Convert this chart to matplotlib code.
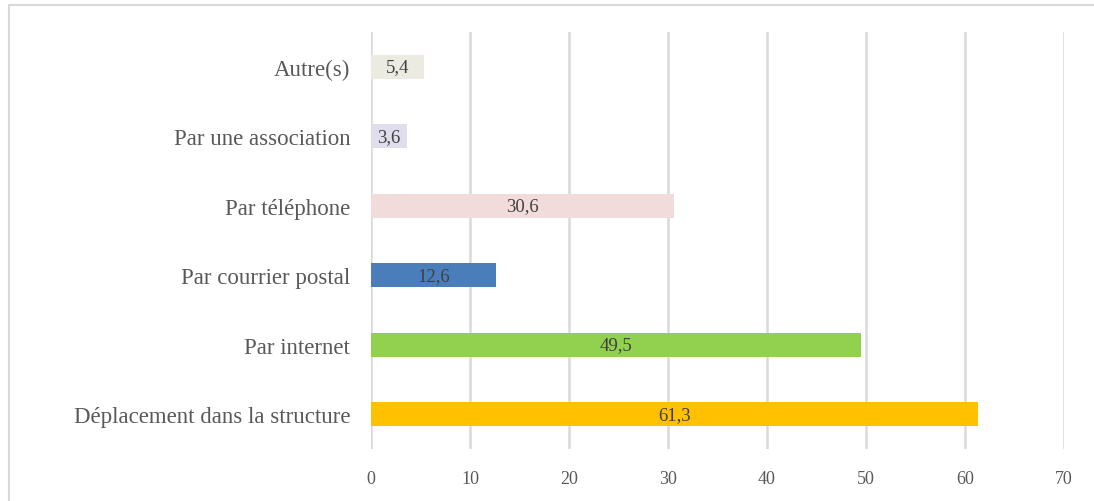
import matplotlib.pyplot as plt
from matplotlib.patches import Rectangle

categories = [
    "Déplacement dans la structure",
    "Par internet",
    "Par courrier postal",
    "Par téléphone",
    "Par une association",
    "Autre(s)",
]
values = [61.3, 49.5, 12.6, 30.6, 3.6, 5.4]
colors = ["#FFC000", "#92D050", "#4A7EBB", "#F2DCDB", "#E0DDEC", "#ECEBE1"]
xticks = [0, 10, 20, 30, 40, 50, 60, 70]

plt.rcParams["font.family"] = ["Liberation Serif", "DejaVu Serif"]

fig = plt.figure(figsize=(10.94, 5.02), dpi=100)
ax = fig.add_axes([371 / 1094, 1 - 450 / 502, 693 / 1094, 417 / 502])

# light frame around the chart area
fig.patches.append(Rectangle((9 / 1094, -0.1), 1.1, 1.1 - 6 / 502,
                             transform=fig.transFigure, fill=False,
                             edgecolor="#D9D9D9", linewidth=1.5))

y = range(len(categories))
bars = ax.barh(y, values, height=0.35, color=colors, zorder=3)
for rect, v in zip(bars, values):
    ax.text(rect.get_width() / 2, rect.get_y() + rect.get_height() / 2,
            f"{v:.1f}".replace(".", ","), ha="center", va="center",
            fontsize=13.5, color="#404040", zorder=4)

ax.set_xlim(0, 70)
ax.set_ylim(-0.5, len(categories) - 0.5)
ax.set_xticks(xticks)
ax.set_yticks(list(y))
ax.set_yticklabels(categories)
ax.grid(axis="x", color="#D9D9D9", linewidth=1.8, zorder=0)
for s in ax.spines.values():
    s.set_visible(False)
ax.tick_params(axis="x", length=0, pad=15, labelsize=13, labelcolor="#595959")
ax.tick_params(axis="y", length=0, pad=15, labelsize=16.5, labelcolor="#595959")

fig.savefig("out.png", dpi=100)
